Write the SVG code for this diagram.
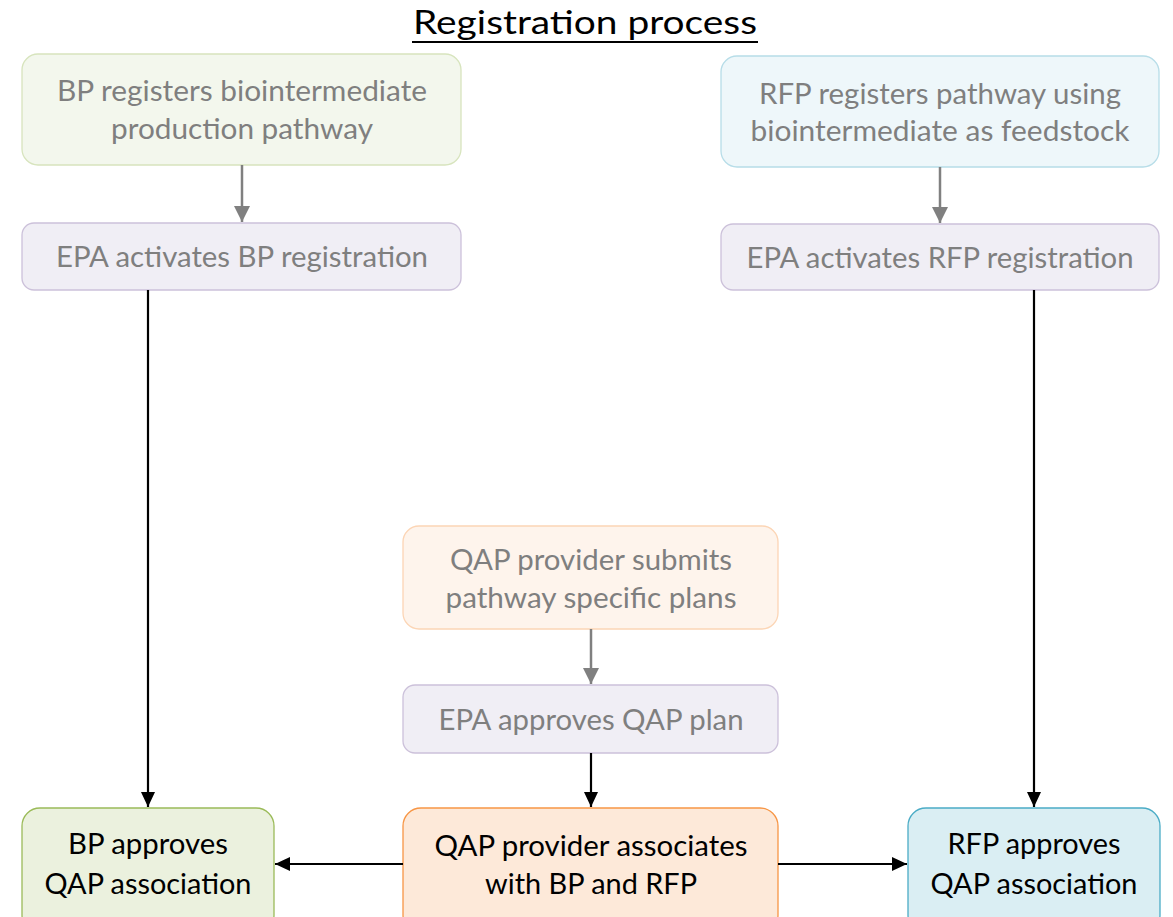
<svg xmlns="http://www.w3.org/2000/svg" width="1173" height="917" viewBox="0 0 1173 917">
<style>
text{font-family:Lato,"Open Sans","Liberation Sans",sans-serif;text-anchor:middle}
.g{fill:#7f7f7f;font-size:28px}
.k{fill:#000;font-size:28px}
.t{fill:#000;font-size:33px}
.ga{stroke:#808080;stroke-width:2.5;fill:none}
.ka{stroke:#000;stroke-width:2.2;fill:none}
</style>
<defs>
<marker id="mg" viewBox="0 0 16 16" refX="16" refY="8" markerWidth="16" markerHeight="16" markerUnits="userSpaceOnUse" orient="auto"><path d="M0,0L16,8L0,16z" fill="#808080"/></marker>
<marker id="mk" viewBox="0 0 15 14" refX="15" refY="7" markerWidth="15" markerHeight="14" markerUnits="userSpaceOnUse" orient="auto"><path d="M0,0L15,7L0,14z" fill="#000"/></marker>
</defs>
<g id="title">
<text class="t" x="585" y="34" textLength="344" lengthAdjust="spacingAndGlyphs">Registration process</text>
<line x1="412" y1="42" x2="758" y2="42" stroke="#000" stroke-width="2"/>
</g>
<g id="bp-register">
<rect x="22" y="54" width="439" height="111" rx="16" fill="#f3f7ed" stroke="#d7e4bd" stroke-width="1.3"/>
<text class="g" x="242" y="101" textLength="370" lengthAdjust="spacingAndGlyphs">BP registers biointermediate</text>
<text class="g" x="242" y="139" textLength="262" lengthAdjust="spacingAndGlyphs">production pathway</text>
</g>
<g id="epa-bp">
<rect x="22" y="223" width="439" height="67" rx="12" fill="#f0eef5" stroke="#ccc1da" stroke-width="1.3"/>
<text class="g" x="242" y="267" textLength="372" lengthAdjust="spacingAndGlyphs">EPA activates BP registration</text>
</g>
<g id="rfp-register">
<rect x="721" y="56" width="438" height="111" rx="16" fill="#eef7fa" stroke="#b7dde8" stroke-width="1.3"/>
<text class="g" x="940" y="104" textLength="362" lengthAdjust="spacingAndGlyphs">RFP registers pathway using</text>
<text class="g" x="940" y="141" textLength="379" lengthAdjust="spacingAndGlyphs">biointermediate as feedstock</text>
</g>
<g id="epa-rfp">
<rect x="721" y="224" width="438" height="66" rx="12" fill="#f0eef5" stroke="#ccc1da" stroke-width="1.3"/>
<text class="g" x="940" y="268" textLength="387" lengthAdjust="spacingAndGlyphs">EPA activates RFP registration</text>
</g>
<g id="qap-submit">
<rect x="403" y="526" width="375" height="103" rx="16" fill="#fef4ec" stroke="#fcd5b5" stroke-width="1.3"/>
<text class="g" x="591" y="570" textLength="282" lengthAdjust="spacingAndGlyphs">QAP provider submits</text>
<text class="g" x="591" y="608" textLength="291" lengthAdjust="spacingAndGlyphs">pathway specific plans</text>
</g>
<g id="epa-qap">
<rect x="403" y="685" width="375" height="68" rx="12" fill="#f0eef5" stroke="#ccc1da" stroke-width="1.3"/>
<text class="g" x="591" y="730" textLength="305" lengthAdjust="spacingAndGlyphs">EPA approves QAP plan</text>
</g>
<g id="bp-approve">
<rect x="22" y="808" width="252" height="125" rx="18" fill="#ebf1de" stroke="#9bbb59" stroke-width="1.3"/>
<text class="k" x="148" y="854" textLength="160" lengthAdjust="spacingAndGlyphs">BP approves</text>
<text class="k" x="148" y="894" textLength="207" lengthAdjust="spacingAndGlyphs">QAP association</text>
</g>
<g id="qap-associate">
<rect x="403" y="808" width="375" height="125" rx="18" fill="#fde9d9" stroke="#f79646" stroke-width="1.3"/>
<text class="k" x="591" y="856" textLength="313" lengthAdjust="spacingAndGlyphs">QAP provider associates</text>
<text class="k" x="591" y="894" textLength="212" lengthAdjust="spacingAndGlyphs">with BP and RFP</text>
</g>
<g id="rfp-approve">
<rect x="908" y="808" width="252" height="125" rx="18" fill="#daeef3" stroke="#4bacc6" stroke-width="1.3"/>
<text class="k" x="1034" y="854" textLength="173" lengthAdjust="spacingAndGlyphs">RFP approves</text>
<text class="k" x="1034" y="894" textLength="207" lengthAdjust="spacingAndGlyphs">QAP association</text>
</g>
<g id="connectors">
<line class="ga" x1="242" y1="165" x2="242" y2="222" marker-end="url(#mg)"/>
<line class="ga" x1="940" y1="167" x2="940" y2="223" marker-end="url(#mg)"/>
<line class="ga" x1="591" y1="629" x2="591" y2="684" marker-end="url(#mg)"/>
<line class="ka" x1="148" y1="290" x2="148" y2="807" marker-end="url(#mk)"/>
<line class="ka" x1="1034" y1="290" x2="1034" y2="807" marker-end="url(#mk)"/>
<line class="ka" x1="591" y1="753" x2="591" y2="807" marker-end="url(#mk)"/>
<line class="ka" x1="403" y1="864" x2="275" y2="864" marker-end="url(#mk)"/>
<line class="ka" x1="778" y1="864" x2="907" y2="864" marker-end="url(#mk)"/>
</g>
</svg>
